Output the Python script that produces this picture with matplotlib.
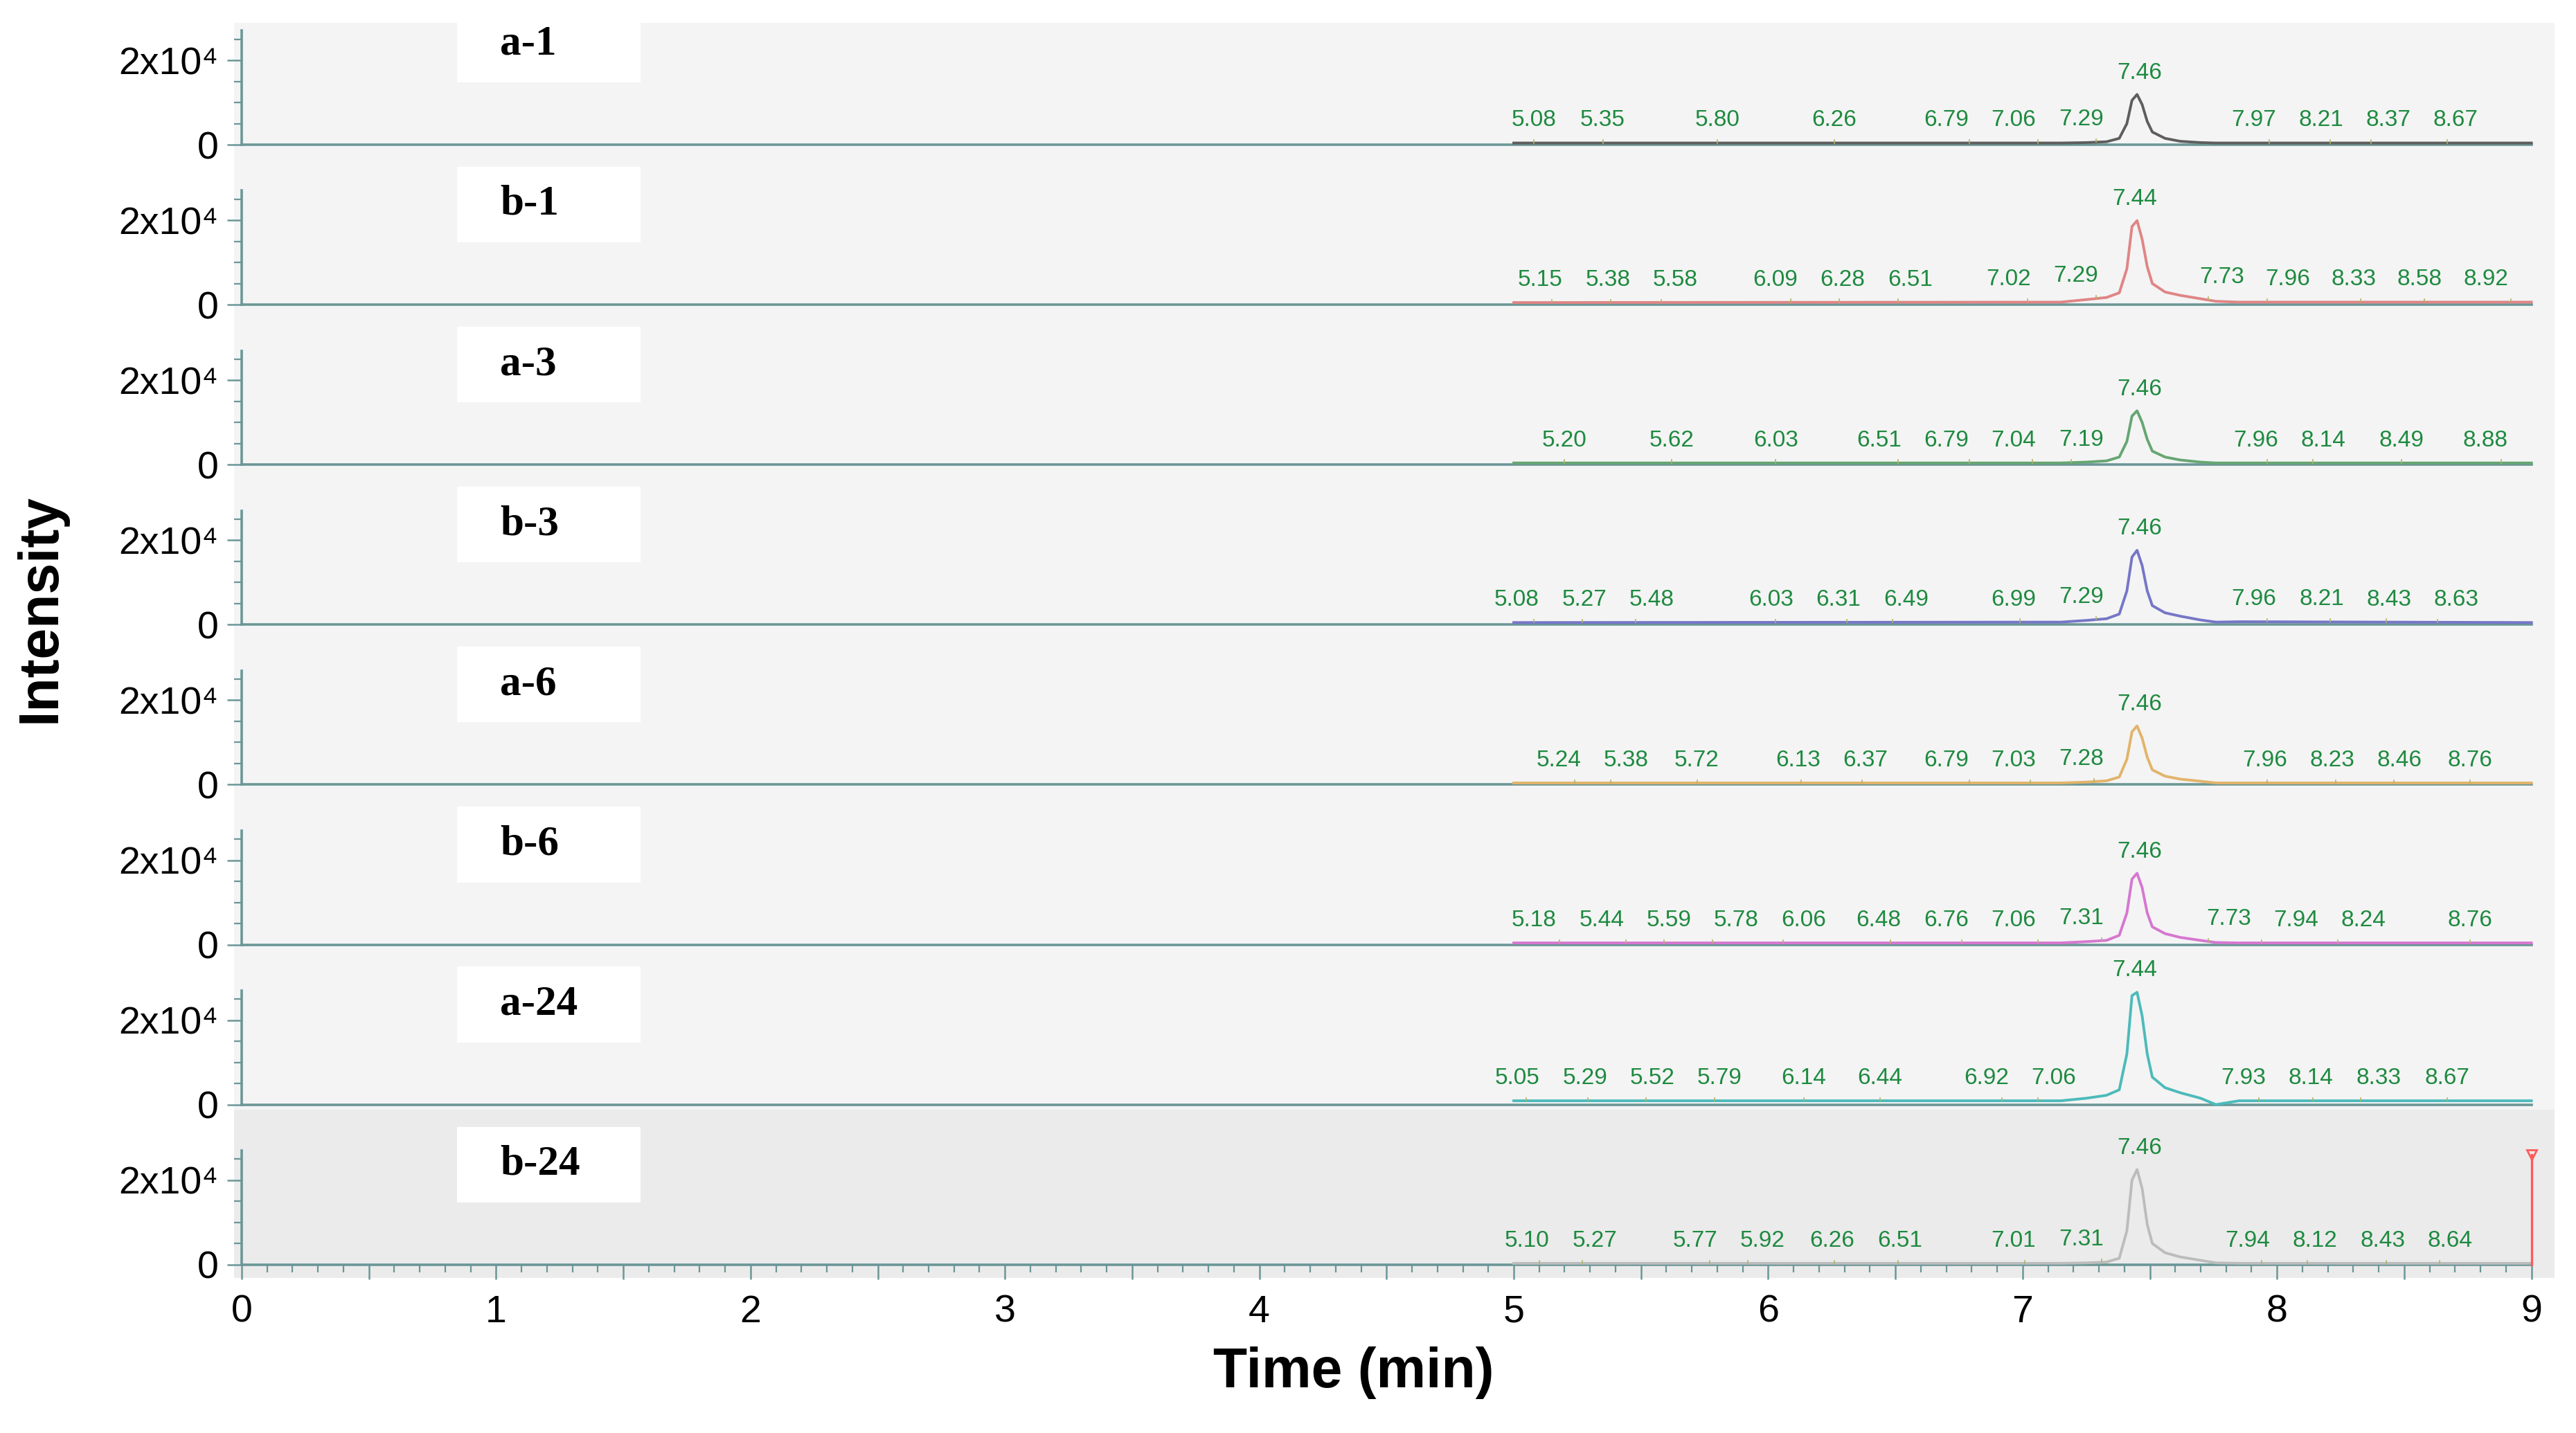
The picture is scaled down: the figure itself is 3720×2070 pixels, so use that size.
import numpy as np
import matplotlib
matplotlib.use("Agg")
import matplotlib.pyplot as plt
from matplotlib.ticker import FixedLocator, MultipleLocator, FuncFormatter
from matplotlib.patches import Rectangle

plt.rcParams["font.family"] = ["Liberation Sans", "DejaVu Sans"]

# ---- data ---------------------------------------------------------------
SAMPLES = ["a-1", "b-1", "a-3", "b-3", "a-6", "b-6", "a-24", "b-24"]

TIME = [5.00, 7.15, 7.25, 7.33, 7.38, 7.41, 7.43, 7.45, 7.47, 7.49, 7.51,
        7.56, 7.62, 7.70, 7.76, 7.85, 9.00]

I_A1 = [400, 400, 500, 700, 1500, 5000, 10500, 11900, 9500, 5500, 3000,
        1500, 800, 500, 400, 400, 400]
I_B1 = [500, 600, 1200, 1700, 2800, 8500, 18500, 19900, 15500, 9000, 5000,
        3000, 2200, 1400, 800, 600, 600]
I_A3 = [400, 400, 600, 900, 1800, 5500, 11500, 12750, 10000, 6000, 3200,
        1800, 1100, 600, 400, 400, 400]
I_B3 = [500, 600, 1000, 1400, 2500, 8000, 16000, 17600, 14000, 8000, 4500,
        2800, 2000, 1100, 600, 700, 500]
I_A6 = [400, 400, 600, 900, 1800, 6000, 12500, 13900, 11000, 6500, 3500,
        2000, 1300, 800, 400, 400, 400]
I_B6 = [400, 400, 700, 1000, 2200, 7500, 15500, 16900, 13500, 7500, 4200,
        2600, 1700, 1000, 500, 400, 400]
I_A24 = [900, 900, 1500, 2200, 3500, 12000, 25800, 26600, 21000, 12000, 6500,
         4000, 2800, 1500, 0, 900, 900]
I_B24 = [300, 300, 400, 600, 1500, 8000, 20000, 22500, 18000, 9500, 5000,
         2800, 1800, 1000, 400, 300, 300]

RT_A1 = [5.08, 5.35, 5.80, 6.26, 6.79, 7.06, 7.29, 7.46, 7.97, 8.21, 8.37, 8.67]
RT_B1 = [5.15, 5.38, 5.58, 6.09, 6.28, 6.51, 7.02, 7.29, 7.44, 7.73, 7.96, 8.33,
         8.58, 8.92]
RT_A3 = [5.20, 5.62, 6.03, 6.51, 6.79, 7.04, 7.19, 7.46, 7.96, 8.14, 8.49, 8.88]
RT_B3 = [5.08, 5.27, 5.48, 6.03, 6.31, 6.49, 6.99, 7.29, 7.46, 7.96, 8.21, 8.43,
         8.63]
RT_A6 = [5.24, 5.38, 5.72, 6.13, 6.37, 6.79, 7.03, 7.28, 7.46, 7.96, 8.23, 8.46,
         8.76]
RT_B6 = [5.18, 5.44, 5.59, 5.78, 6.06, 6.48, 6.76, 7.06, 7.31, 7.46, 7.73, 7.94,
         8.24, 8.76]
RT_A24 = [5.05, 5.29, 5.52, 5.79, 6.14, 6.44, 6.92, 7.06, 7.44, 7.93, 8.14, 8.33,
          8.67]
RT_B24 = [5.10, 5.27, 5.77, 5.92, 6.26, 6.51, 7.01, 7.31, 7.46, 7.94, 8.12, 8.43,
          8.64]

# end-of-run marker in the last trace
MARK_T = 9.0
MARK_H = 26000

TRACES = [I_A1, I_B1, I_A3, I_B3, I_A6, I_B6, I_A24, I_B24]
RTS = [RT_A1, RT_B1, RT_A3, RT_B3, RT_A6, RT_B6, RT_A24, RT_B24]
COLORS = ["#5e5e5e", "#e08585", "#66a672", "#7676c8", "#e2b46a", "#d677d0",
          "#4dbaba", "#bcbcbc"]

AXC = "#6b9696"
LABEL_GREEN = "#1e8a40"

# ---- layout (pixels of the 3720x2070 target) ------------------------------
W, H, DPI = 3720, 2070, 200
PX_PER_MIN = 367.4
X0_PX = 349
XLIM = (-0.03, 9.09)
UNITS_PER_PX = 20000 / 122
BASE0, STEP = 209, 231.1


def spread(xs, fixed, gap=0.265):
    xs = list(xs)
    for _ in range(300):
        for j in range(len(xs) - 1):
            g = gap
            if j + 1 == fixed:
                g = 0.23
            if j == fixed:
                g = 0.35
            d = xs[j + 1] - xs[j]
            if d < g:
                s = g - d
                if j == fixed:
                    xs[j + 1] += s
                elif j + 1 == fixed:
                    xs[j] -= s
                else:
                    xs[j] -= s / 2
                    xs[j + 1] += s / 2
        xs[-1] = min(xs[-1], 8.82)
    return xs


fig = plt.figure(figsize=(W / DPI, H / DPI), dpi=DPI)
ax_left = (X0_PX + XLIM[0] * PX_PER_MIN) / W
ax_width = (XLIM[1] - XLIM[0]) * PX_PER_MIN / W
n = len(SAMPLES)

for i, name in enumerate(SAMPLES):
    base = BASE0 + STEP * i
    top_px = 33 if i == 0 else BASE0 + STEP * (i - 1) + 7
    bot_px = base + (19 if i == n - 1 else 7)
    ax = fig.add_axes([ax_left, 1 - bot_px / H, ax_width, (bot_px - top_px) / H])
    ax.set_xlim(XLIM)
    ax.set_ylim(-(bot_px - base) * UNITS_PER_PX, (base - top_px) * UNITS_PER_PX)
    ax.set_facecolor("#ebebeb" if i == n - 1 else "#f4f4f4")

    for s in ("top", "right"):
        ax.spines[s].set_visible(False)
    ax.spines["left"].set_position(("data", 0))
    ax.spines["left"].set_bounds(0, 27000)
    ax.spines["bottom"].set_position(("data", 0))
    ax.spines["bottom"].set_bounds(0, 9)
    for s in ("left", "bottom"):
        ax.spines[s].set_color(AXC)
        ax.spines[s].set_linewidth(1.3)

    ax.yaxis.set_major_locator(FixedLocator([0, 20000]))
    ax.yaxis.set_major_formatter(FuncFormatter(lambda v, p: "0" if v == 0 else "2x10⁴"))
    ax.yaxis.set_minor_locator(FixedLocator([5000, 10000, 15000, 25000]))
    ax.tick_params(axis="y", which="major", length=7.5, width=0.9, color=AXC,
                   labelsize=20, pad=4.5)
    ax.tick_params(axis="y", which="minor", length=4, width=0.8, color=AXC)

    if i == n - 1:
        ax.xaxis.set_major_locator(MultipleLocator(0.5))
        ax.xaxis.set_minor_locator(MultipleLocator(0.1))
        ax.xaxis.set_major_formatter(FuncFormatter(
            lambda v, p: f"{v:.0f}" if abs(v - round(v)) < 1e-6 else ""))
        ax.tick_params(axis="x", which="major", length=7.5, width=0.9, color=AXC,
                       labelsize=20, pad=8)
        ax.tick_params(axis="x", which="minor", length=4, width=0.8, color=AXC)
    else:
        ax.tick_params(axis="x", which="both", bottom=False, labelbottom=False)

    # sample tag
    ax.add_patch(Rectangle((0.846, 14750), 0.722, 17900, facecolor="white",
                           edgecolor="none", zorder=2))
    ax.text(1.015, 23800, name, ha="left", va="center", fontsize=22,
            fontweight="bold", family=["Liberation Serif", "DejaVu Serif"],
            zorder=3)

    t = np.array(TIME)
    y = np.array(TRACES[i], dtype=float)
    ax.plot(t, y, color=COLORS[i], lw=1.4, zorder=4, solid_joinstyle="round")

    rts = RTS[i]
    apex_t = t[np.argmax(y)]
    main = int(np.argmin([abs(r - apex_t) for r in rts]))
    xs = spread(rts, main)
    for j, (rt, xl) in enumerate(zip(rts, xs)):
        yt = np.interp(rt, t, y)
        if j == main:
            ytxt = y.max() + 2600
        else:
            ytxt = yt + 2800
            ax.plot([rt, rt], [yt, yt + 700], color="#b3b36a", lw=0.6, zorder=4)
        ax.text(xl, ytxt, f"{rt:.2f}", ha="center", va="bottom", fontsize=12,
                color=LABEL_GREEN, zorder=5)

    if i == n - 1:
        ax.plot([MARK_T, MARK_T], [0, MARK_H], color="#ff5a5a", lw=1.2, zorder=5)
        ax.plot([MARK_T], [MARK_H], marker="v", ms=5, mfc="none", mec="#ff5a5a",
                mew=1.0, zorder=5)

fig.text(59 / W, 1 - 878 / H, "Intensity", rotation=90, ha="center",
         va="center", fontsize=29, fontweight="bold")
fig.text(1955 / W, 1 - 1983 / H, "Time (min)", ha="center", va="center",
         fontsize=29, fontweight="bold")

fig.savefig("out.png", dpi=DPI, facecolor="white")
